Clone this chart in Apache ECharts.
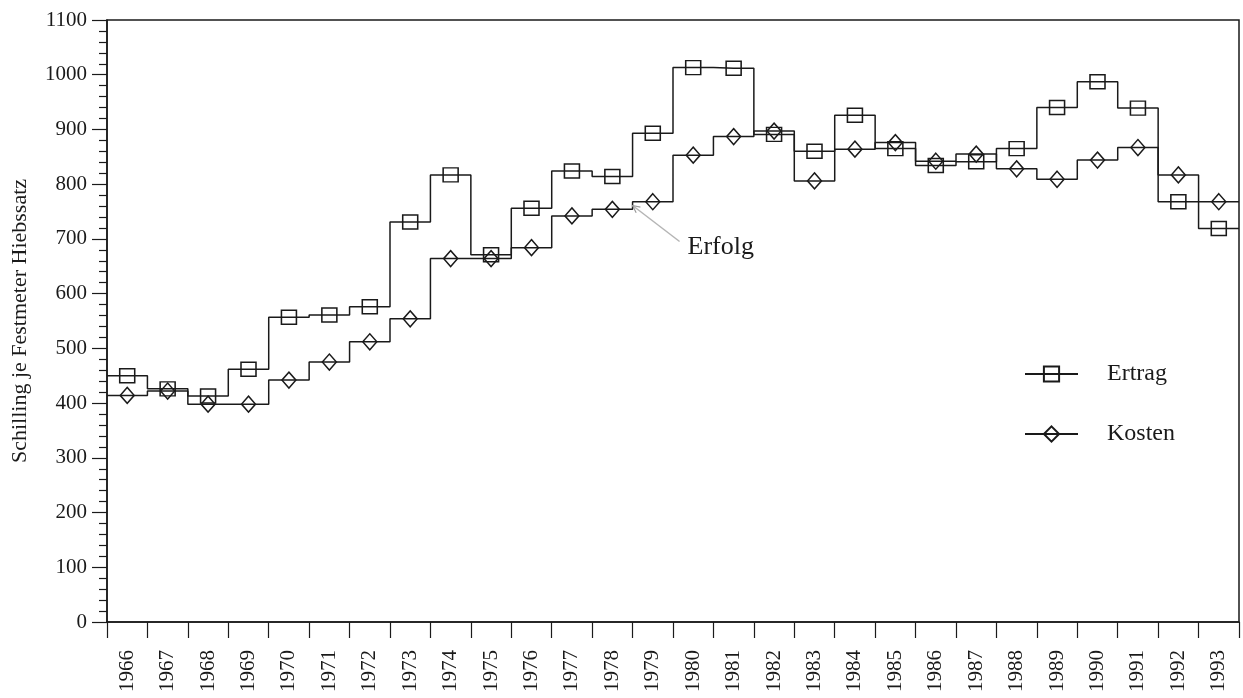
<!DOCTYPE html>
<html>
<head>
<meta charset="utf-8">
<script src="https://cdn.jsdelivr.net/npm/echarts@6/dist/echarts.min.js"></script>
<style>
html,body{margin:0;padding:0;background:#fff;}
#chart{width:1243px;height:698px;}
</style>
</head>
<body>
<div id="chart"></div>
<script>
const years = ['1966','1967','1968','1969','1970','1971','1972','1973','1974','1975','1976','1977','1978','1979','1980','1981','1982','1983','1984','1985','1986','1987','1988','1989','1990','1991','1992','1993'];
const ertrag = [450, 426, 413, 462, 557, 561, 576, 731, 817, 671, 756, 824, 814, 893, 1013, 1012, 891, 860, 926, 865, 834, 841, 865, 940, 987, 939, 768, 719];
const kosten = [414, 422, 398, 398, 442, 475, 512, 554, 664, 664, 684, 742, 754, 768, 853, 887, 897, 806, 864, 876, 842, 855, 828, 809, 844, 867, 817, 768];
const yMin = 0, yMax = 1100, yStep = 100;
const annotationText = 'Erfolg';

const FONT = 'Liberation Serif';
const INK = '#1a1a1a';

function stepData(vals) {
  const n = vals.length;
  const pts = vals.map((v, i) => [i, v]);
  return [{ value: [-0.5, vals[0]], symbol: 'none' }]
    .concat(pts)
    .concat([{ value: [n - 0.5, vals[n - 1]], symbol: 'none' }]);
}

const chart = echarts.init(document.getElementById('chart'), null, { renderer: 'canvas' });

const option = {
  backgroundColor: '#fff',
  animation: false,
  grid: {
    left: 107, right: 4, top: 20, bottom: 76,
    show: true, borderColor: INK, borderWidth: 1.5, backgroundColor: 'transparent'
  },
  legend: {
    orient: 'vertical',
    left: 1024, top: 361, padding: 0,
    itemWidth: 53, itemHeight: 19, itemGap: 34,
    data: ['Ertrag', 'Kosten'],
    textStyle: { fontFamily: FONT, fontSize: 24, color: INK, padding: [0, 0, 0, 24], lineHeight: 26 },
    selectedMode: false
  },
  xAxis: [
    {
      type: 'category', data: years, boundaryGap: true,
      axisLine: { show: true, lineStyle: { color: INK, width: 1.5 } },
      axisTick: { show: true, alignWithLabel: false, inside: false, length: 16, lineStyle: { color: INK, width: 1.2 } },
      axisLabel: { rotate: 90, margin: 28, fontFamily: FONT, fontSize: 21, color: INK, interval: 0 },
      splitLine: { show: false }
    },
    {
      type: 'value', min: -0.5, max: years.length - 0.5, show: false,
      axisLine: { show: false, onZero: false },
      splitLine: { show: false }
    }
  ],
  yAxis: {
    type: 'value', min: yMin, max: yMax, interval: yStep,
    name: 'Schilling je Festmeter Hiebssatz',
    nameLocation: 'middle', nameRotate: 90, nameGap: 76,
    nameTextStyle: { fontFamily: FONT, fontSize: 22, color: INK },
    axisLine: { show: true, onZero: false, lineStyle: { color: INK, width: 1.5 } },
    axisTick: { show: true, inside: false, length: 15, lineStyle: { color: INK, width: 1.2 } },
    minorTick: { show: true, splitNumber: 5, length: 8, lineStyle: { color: INK, width: 1.2 } },
    axisLabel: { fontFamily: FONT, fontSize: 21, color: INK, margin: 20, formatter: v => String(v) },
    splitLine: { show: false }
  },
  series: [
    {
      name: 'Ertrag', type: 'line', xAxisIndex: 1, step: 'middle',
      data: stepData(ertrag),
      symbol: 'rect', symbolSize: [15, 14], showAllSymbol: true,
      lineStyle: { color: INK, width: 1.5 },
      itemStyle: { color: 'rgba(255,255,255,0)', borderColor: INK, borderWidth: 1.5 },
      z: 3
    },
    {
      name: 'Kosten', type: 'line', xAxisIndex: 1, step: 'middle',
      data: stepData(kosten),
      symbol: 'diamond', symbolSize: [14, 16], showAllSymbol: true,
      lineStyle: { color: INK, width: 1.5 },
      itemStyle: { color: 'rgba(255,255,255,0)', borderColor: INK, borderWidth: 1.5 },
      z: 3
    }
  ]
};

chart.setOption(option);

// Annotation "Erfolg" with arrow pointing at the Kosten step between 1978 and 1979
const iA = years.indexOf('1978');
const tip = chart.convertToPixel({ xAxisIndex: 1, yAxisIndex: 0 }, [iA + 0.5, (kosten[iA] + kosten[iA + 1]) / 2]);
const tail = [tip[0] + 47, tip[1] + 36];
const ang = Math.atan2(tip[1] - tail[1], tip[0] - tail[0]);
const ah = 8, aw = 0.45;
chart.setOption({
  graphic: [
    {
      type: 'line', silent: true, z: 10,
      shape: { x1: tail[0], y1: tail[1], x2: tip[0], y2: tip[1] },
      style: { stroke: '#b5b5b5', lineWidth: 1.5 }
    },
    {
      type: 'polyline', silent: true, z: 10,
      shape: { points: [
        [tip[0] - ah * Math.cos(ang - aw), tip[1] - ah * Math.sin(ang - aw)],
        [tip[0], tip[1]],
        [tip[0] - ah * Math.cos(ang + aw), tip[1] - ah * Math.sin(ang + aw)]
      ] },
      style: { stroke: '#9a9a9a', lineWidth: 1.2, fill: null }
    },
    {
      type: 'text', silent: true, z: 10,
      x: tail[0] + 8, y: tail[1] - 7,
      style: { text: annotationText, font: '26px "Liberation Serif"', fill: INK, textVerticalAlign: 'top' }
    }
  ]
});
</script>
</body>
</html>
